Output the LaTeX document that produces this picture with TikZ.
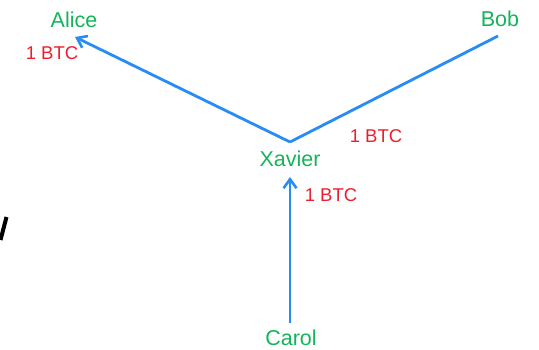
\documentclass[tikz,border=0pt]{standalone}
\usepackage{fontspec}
\setmainfont{Liberation Sans}
\usetikzlibrary{arrows.meta}
\definecolor{nodegreen}{RGB}{20,180,90}
\definecolor{btcred}{RGB}{235,30,45}
\definecolor{edgeblue}{RGB}{40,140,245}
\tikzset{
  person/.style={text=nodegreen, inner sep=0pt, font=\fontsize{21.5}{24}\selectfont},
  amount/.style={text=btcred, inner sep=0pt, font=\fontsize{18.5}{21}\selectfont},
  edge/.style={draw=edgeblue, line width=2.8pt},
  payarrow/.style={edge, -{Straight Barb[length=9pt,width=13pt,line width=2.6pt]}}
}
\begin{document}
\begin{tikzpicture}[x=1pt,y=-1pt]
\useasboundingbox (0,0) rectangle (539,350);
\node[person] (alice) at (74,20) {Alice};
\node[person] (bob) at (500,19) {Bob};
\node[person] (xavier) at (290,159) {Xavier};
\node[person] (carol) at (291,338) {Carol};
\node[amount] (l1) at (52,53) {1 BTC};
\node[amount] (l2) at (376,136) {1 BTC};
\node[amount] (l3) at (331,195) {1 BTC};
\coordinate (j) at (290,142);
\coordinate (atip) at (75,37);
\coordinate (bend) at (498,36);
\coordinate (xtip) at (290,177);
\coordinate (cstart) at (290,323);
\draw[payarrow] (j) -- (atip);
\draw[edge] (bend) -- (j);
\draw[payarrow] (cstart) -- (xtip);
\draw[line width=4pt, black] (6.5,217) -- (0.5,240);
\end{tikzpicture}
\end{document}
